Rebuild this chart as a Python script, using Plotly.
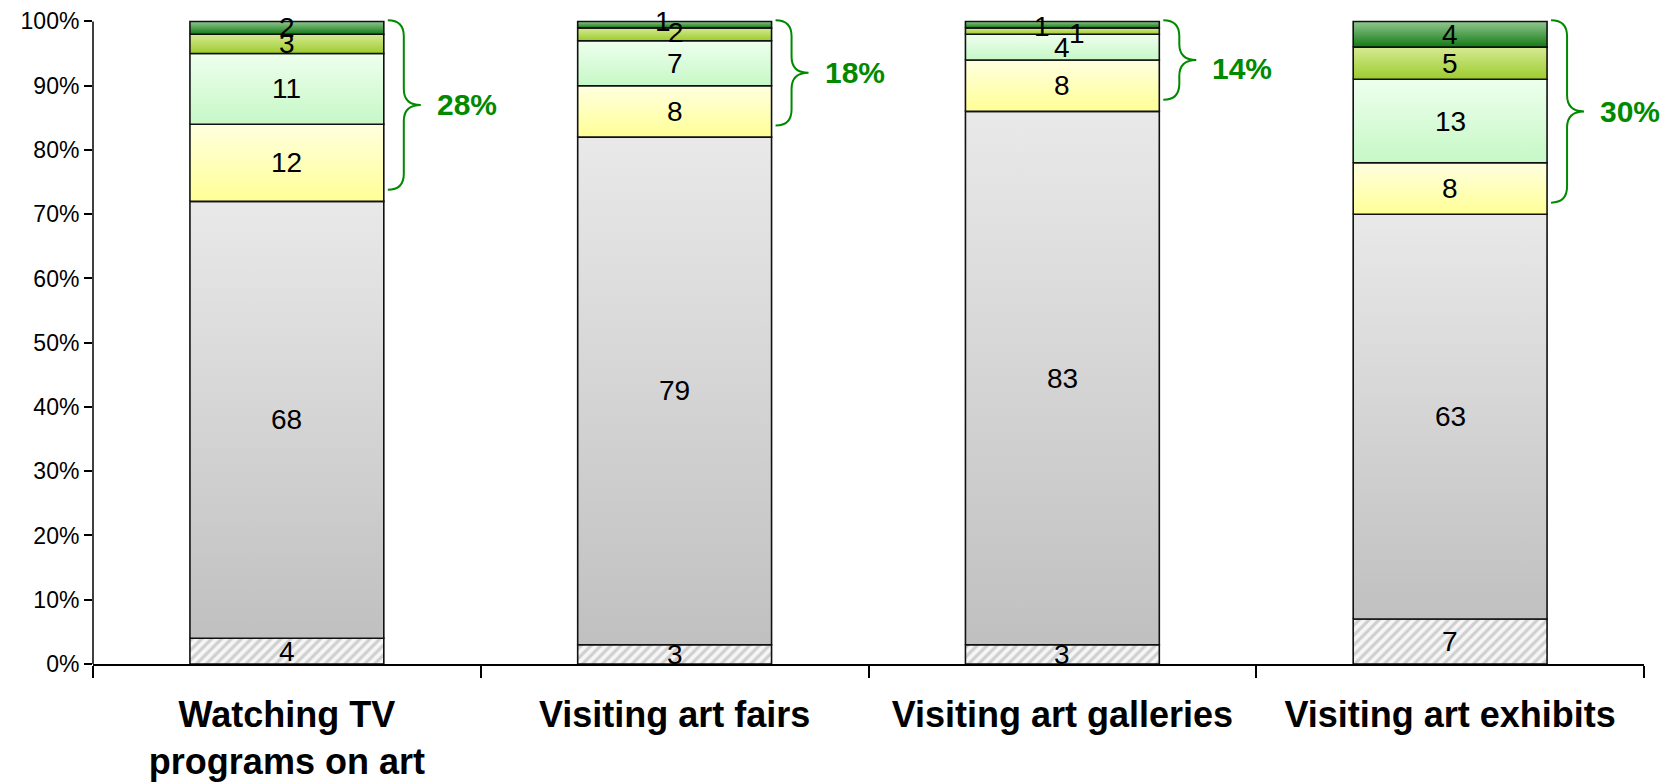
import plotly.graph_objects as go

# Survey shares per activity, stacked bottom to top (percent of respondents)
categories = ["Watching TV<br>programs on art", "Visiting art fairs",
              "Visiting art galleries", "Visiting art exhibits"]
no_answer = [4, 3, 3, 7]
never = [68, 79, 83, 63]
rarely = [12, 8, 8, 8]
sometimes = [11, 7, 4, 13]
often = [3, 2, 1, 5]
very_often = [2, 1, 1, 4]

y_ticks = [0, 10, 20, 30, 40, 50, 60, 70, 80, 90, 100]
y_tick_labels = [f"{v}%" for v in y_ticks]

FONT = "Liberation Sans, Arial, sans-serif"
GREEN = "#008a00"
HALF = 0.25  # half bar width in category units

# vertical gradients (bottom colour, top colour) for each stacked layer
layers = [
    (no_answer, None),
    (never, ("#c0c0c0", "#e9e9e9")),
    (rarely, ("#ffff96", "#ffffe0")),
    (sometimes, ("#c6f8c6", "#eeffee")),
    (often, ("#9ccc2c", "#d6ea94")),
    (very_often, ("#137a13", "#92c892")),
]

# small pixel nudges for labels of very thin layers (bar, layer) -> (dx, dy)
label_nudge = {
    (1, 5): (-12, 3), (1, 4): (1, 2),
    (2, 5): (-20, -2), (2, 4): (15, -2),
}
# vertical pixel nudge of the bracket totals
total_nudge = {2: -9}

fig = go.Figure()
annotations = []

for i in range(len(categories)):
    base = 0.0
    for k, (vals, grad) in enumerate(layers):
        v = vals[i]
        lo, hi = base, base + v
        xs = [i - HALF, i + HALF, i + HALF, i - HALF, i - HALF]
        ys = [lo, lo, hi, hi, lo]
        tr = dict(x=xs, y=ys, mode="lines", fill="toself",
                  line=dict(color="#111111", width=1.6),
                  hoverinfo="skip", showlegend=False)
        if grad is None:
            tr["fillcolor"] = "#f6f6f6"
            tr["fillpattern"] = dict(shape="/", bgcolor="#f6f6f6",
                                     fgcolor="#a8a8a8", size=7, solidity=0.45)
        else:
            tr["fillgradient"] = dict(type="vertical",
                                      colorscale=[[0, grad[0]], [1, grad[1]]],
                                      start=lo, stop=hi)
        fig.add_trace(go.Scatter(**tr))
        dx, dy = label_nudge.get((i, k), (0, 0))
        annotations.append(dict(x=i, y=(lo + hi) / 2, xref="x", yref="y",
                                text=str(v), showarrow=False,
                                xshift=dx, yshift=dy,
                                font=dict(family=FONT, size=28, color="black")))
        base = hi

# curly braces spanning the four upper layers, with their total
shapes = []
for i in range(len(categories)):
    total = rarely[i] + sometimes[i] + often[i] + very_often[i]
    top = 100.2
    bot = 100 - total + 1.8
    mid = (top + bot) / 2
    r = 2.5
    x0, xv, xt = 4, 20, 37
    path = (f"M {x0},{top} Q {xv},{top} {xv},{top - r} "
            f"L {xv},{mid + r} Q {xv},{mid} {xt},{mid} "
            f"Q {xv},{mid} {xv},{mid - r} "
            f"L {xv},{bot + r} Q {xv},{bot} {x0},{bot}")
    shapes.append(dict(type="path", path=path, xref="x", yref="y",
                       xsizemode="pixel", xanchor=i + HALF,
                       line=dict(color=GREEN, width=2)))
    annotations.append(dict(x=i + HALF, y=mid, xref="x", yref="y",
                            text=f"<b>{total}%</b>", showarrow=False,
                            xanchor="left", xshift=xt + 14,
                            yshift=total_nudge.get(i, 0),
                            font=dict(family=FONT, size=30, color=GREEN)))

# y axis line drawn only up to the 100% tick
shapes.append(dict(type="line", xref="paper", x0=0, x1=0, yref="y",
                   y0=0, y1=100, line=dict(color="black", width=1.5)))

fig.update_layout(
    width=1668, height=782,
    margin=dict(l=93, r=24, t=15, b=118),
    paper_bgcolor="white", plot_bgcolor="white",
    font=dict(family=FONT, color="black"),
    shapes=shapes, annotations=annotations,
    xaxis=dict(range=[-0.5, 3.5], tickmode="array", automargin=False,
               tickvals=list(range(len(categories))), ticktext=categories,
               ticks="", showline=True, linecolor="black", linewidth=1.5,
               showgrid=False, zeroline=False,
               tickfont=dict(family=FONT, size=36, color="black",
                             weight="bold"),
               ticklabelstandoff=18,
               minor=dict(tick0=0.5, dtick=1, ticks="outside", ticklen=12,
                          tickwidth=1.5, tickcolor="black", showgrid=False)),
    yaxis=dict(range=[0, 101], tickmode="array", tickvals=y_ticks,
               ticktext=y_tick_labels, ticks="outside", ticklen=8,
               tickwidth=1.5, tickcolor="black", showline=False,
               automargin=False, showgrid=False, zeroline=False,
               tickfont=dict(family=FONT, size=23, color="black")),
)

fig.write_html("out.html")
